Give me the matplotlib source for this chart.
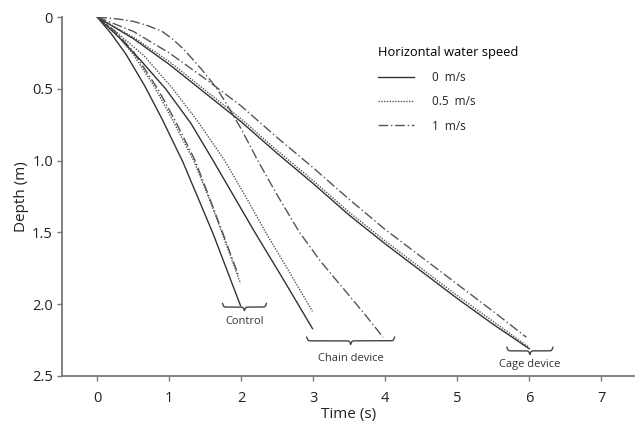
import numpy as np
import matplotlib
matplotlib.use("Agg")
import matplotlib.pyplot as plt

plt.rcParams["font.family"] = ["Open Sans", "DejaVu Sans"]

# values (time in s, depth in m)
ctrl_0_t = [0, 0.2, 0.4, 0.66, 0.9, 1.19, 1.4, 1.61, 1.8, 1.99]
ctrl_0_d = [0, 0.12, 0.26, 0.48, 0.71, 1.01, 1.26, 1.51, 1.76, 2.01]
ctrl_05_t = [0, 0.25, 0.5, 0.8, 1.05, 1.34, 1.55, 1.73, 1.99]
ctrl_05_d = [0, 0.11, 0.26, 0.49, 0.72, 1.0, 1.26, 1.5, 1.855]
ctrl_1_t = [0, 0.25, 0.5, 0.84, 1.08, 1.36, 1.56, 1.74, 1.97]
ctrl_1_d = [0, 0.1, 0.24, 0.5, 0.72, 1.0, 1.26, 1.5, 1.81]

chain_0_t = [0, 0.3, 0.6, 0.95, 1.3, 1.61, 1.9, 2.19, 2.6, 2.99]
chain_0_d = [0, 0.14, 0.3, 0.5, 0.74, 1.0, 1.25, 1.5, 1.84, 2.17]
chain_05_t = [0, 0.3, 0.65, 1.05, 1.4, 1.77, 2.05, 2.34, 2.65, 2.99]
chain_05_d = [0, 0.12, 0.27, 0.5, 0.73, 1.0, 1.24, 1.5, 1.76, 2.05]
chain_1_t = [0, 0.3, 0.5, 0.7, 0.9, 1.05, 1.2, 1.3, 1.45, 1.57, 1.69, 1.85, 2.0,
             2.23, 2.5, 2.81, 3.1, 3.4, 3.7, 3.97]
chain_1_d = [0, 0.015, 0.03, 0.06, 0.1, 0.155, 0.225, 0.28, 0.365, 0.44, 0.52, 0.65, 0.78,
             1.0, 1.24, 1.5, 1.7, 1.88, 2.06, 2.23]

cage_0_t = [0, 0.5, 1.0, 1.5, 2.0, 2.5, 3.0, 3.5, 4.0, 4.5, 5.0, 5.5, 6.0]
cage_0_d = [0, 0.15, 0.33, 0.53, 0.73, 0.95, 1.16, 1.38, 1.58, 1.77, 1.96, 2.14, 2.31]
cage_05_t = [0, 0.5, 1.0, 1.5, 2.0, 2.5, 3.0, 3.5, 4.0, 4.5, 5.0, 5.5, 6.0]
cage_05_d = [0, 0.14, 0.31, 0.51, 0.71, 0.93, 1.14, 1.36, 1.56, 1.75, 1.94, 2.12, 2.30]
cage_1_t = [0, 0.5, 1.0, 1.5, 2.0, 2.5, 3.0, 3.5, 4.0, 4.5, 5.0, 5.5, 5.96]
cage_1_d = [0, 0.1, 0.25, 0.43, 0.62, 0.84, 1.05, 1.27, 1.48, 1.67, 1.86, 2.05, 2.23]

# brace groups: x start, x end, depth, label, label depth
brace_x0 = [1.74, 2.91, 5.69]
brace_x1 = [2.35, 4.13, 6.33]
brace_y = [2.02, 2.255, 2.325]
brace_labels = ["Control", "Chain device", "Cage device"]
brace_label_y = [2.08, 2.34, 2.38]

speed_labels = ["0  m/s", "0.5  m/s", "1  m/s"]

STYLES = [
    dict(color="#333333", linestyle="-", linewidth=1.0),
    dict(color="#555555", linestyle=(0, (1, 1)), linewidth=1.0),
    dict(color="#555555", linestyle=(0, (7, 2, 1, 2)), linewidth=1.0),
]


def draw_brace(ax, x0, x1, y, h=0.025, beta=120.0):
    """Under-brace: ends curl up (shallower), tip points down (deeper)."""
    w = (x1 - x0) / 2
    xh = np.linspace(0, w, 200)
    yh = 1 / (1 + np.exp(-beta * xh)) + 1 / (1 + np.exp(-beta * (xh - w)))
    xs = np.concatenate([x0 + xh, x0 + w + xh])
    ys = np.concatenate([yh, yh[::-1]])
    ax.plot(xs, y + h * (ys - 1) * 2, color="#444444", linewidth=1.0)


fig = plt.figure(figsize=(6.35, 4.21), dpi=100)
ax = fig.add_axes([0.0976, 0.1069, 0.9024, 0.8527])

groups = [
    [(ctrl_0_t, ctrl_0_d), (ctrl_05_t, ctrl_05_d), (ctrl_1_t, ctrl_1_d)],
    [(chain_0_t, chain_0_d), (chain_05_t, chain_05_d), (chain_1_t, chain_1_d)],
    [(cage_0_t, cage_0_d), (cage_05_t, cage_05_d), (cage_1_t, cage_1_d)],
]
for g, series in enumerate(groups):
    for i, (t, d) in enumerate(series):
        ax.plot(t, d, label=speed_labels[i] if g == 0 else None, **STYLES[i])

for x0, x1, y, lab, ly in zip(brace_x0, brace_x1, brace_y, brace_labels, brace_label_y):
    draw_brace(ax, x0, x1, y)
    ax.text((x0 + x1) / 2, ly, lab, ha="center", va="top", fontsize=8, color="#333333")

ax.set_xlim(-0.49, 7.47)
ax.set_ylim(2.5, 0)
ax.set_xticks(range(0, 8))
ax.set_yticks([0, 0.5, 1.0, 1.5, 2.0, 2.5])
ax.set_yticklabels(["0", "0.5", "1.0", "1.5", "2.0", "2.5"])

for side in ["top", "right"]:
    ax.spines[side].set_visible(False)
for side in ["left", "bottom"]:
    ax.spines[side].set_color("#777777")
    ax.spines[side].set_linewidth(1.3)
ax.tick_params(direction="out", length=3.5, width=1, color="#777777",
               labelsize=10.5, labelcolor="#222222", pad=3)
ax.tick_params(axis="x", pad=7)

ax.set_xlabel("Time (s)", fontsize=11, color="#222222", labelpad=1)
ax.set_ylabel("Depth (m)", fontsize=11, color="#222222", labelpad=2)

leg = ax.legend(title="Horizontal water speed", frameon=False, fontsize=8.5,
                title_fontsize=9.3, loc="upper left", bbox_to_anchor=(0.54, 0.94),
                handlelength=3.0, handletextpad=1.5, labelspacing=0.95,
                alignment="left", borderaxespad=0.2)
leg._legend_box.sep = 9
for txt in leg.get_texts():
    txt.set_color("#222222")

fig.savefig("out.png", dpi=100)
